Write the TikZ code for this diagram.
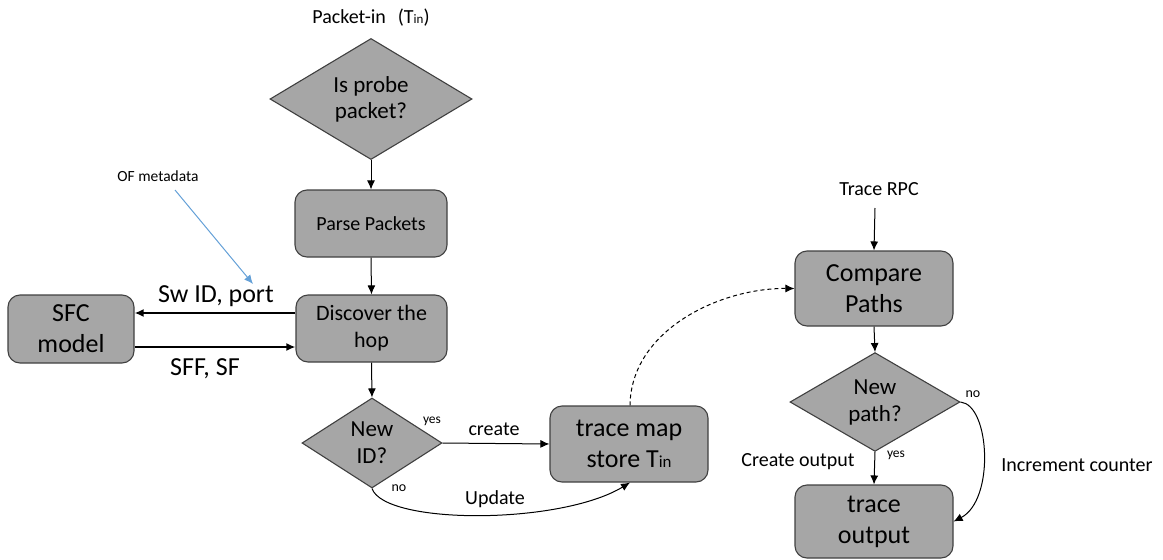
\documentclass[tikz,border=0pt]{standalone}
\usepackage{fontspec}
\setmainfont{Carlito}
\usetikzlibrary{shapes.geometric,arrows.meta}
\definecolor{boxfill}{RGB}{166,166,166}
\definecolor{boxline}{RGB}{64,64,64}
\definecolor{metablue}{RGB}{100,160,215}
\newcommand{\myfs}[2]{\fontsize{#1pt}{#2pt}\selectfont}
\newcommand{\Tin}{T{\fontsize{0.65em}{1em}\selectfont in}}
\tikzset{
  box/.style={draw=boxline, line width=1.1pt, fill=boxfill, rounded corners=12pt, align=center, inner sep=0pt},
  dec/.style={draw=boxline, line width=1.1pt, fill=boxfill, shape=diamond, align=center, inner sep=0pt},
  arr/.style={line width=1pt, -{Latex[length=9pt,width=8pt]}},
  thickarr/.style={line width=2.6pt, -{Latex[length=9pt,width=8pt]}},
  lbl/.style={inner sep=0pt, align=center},
}
\begin{document}
\begin{tikzpicture}[x=1pt,y=-1pt]
\useasboundingbox (0,0) rectangle (1163,560);

% left column
\node[lbl, font={\myfs{20}{24}}] (pin) at (371,18) {Packet-in\hspace{0.6em}(\Tin)};
\node[dec, minimum width=202pt, minimum height=105pt, font={\myfs{23}{26}}] (probe) at (371,99) {Is probe\\packet?};
\node[box, minimum width=152pt, minimum height=67pt, font={\myfs{20}{24}}] (parse) at (371,223.5) {Parse Packets};
\node[box, minimum width=151pt, minimum height=67pt, font={\myfs{22}{27}}] (disc) at (371.5,328.5) {Discover the\\hop};
\node[box, minimum width=126pt, minimum height=68pt, font={\myfs{26}{31}}] (sfc) at (71,329) {SFC\\model};
\node[dec, minimum width=140pt, minimum height=90pt, font={\myfs{23}{27}}] (newid) at (372,443) {New\\ID?};
\node[box, minimum width=158pt, minimum height=76pt, font={\myfs{26}{31}}] (tmap) at (629,444) {trace map\\store \Tin};

% right column
\node[lbl, font={\myfs{20}{24}}] (rpc) at (879,189) {Trace RPC};
\node[box, minimum width=158pt, minimum height=75pt, font={\myfs{26}{31}}] (cmp) at (874,288.5) {Compare\\Paths};
\node[dec, minimum width=170pt, minimum height=90pt, font={\myfs{23}{27}}] (newp) at (875,402) {New\\path?};
\node[box, minimum width=158pt, minimum height=73pt, font={\myfs{26}{31}}] (tout) at (874,521.5) {trace\\output};

% labels
\node[lbl, font={\myfs{15.5}{18}}] (ofm) at (158,176) {OF metadata};
\node[lbl, font={\myfs{26}{31}}] (swid) at (216,296) {Sw ID, port};
\node[lbl, font={\myfs{26}{31}}] (sff) at (205,369) {SFF, SF};
\node[lbl, font={\myfs{13.5}{16}}] (yes1) at (432,421) {yes};
\node[lbl, font={\myfs{14}{16}}] (no1) at (399,488) {no};
\node[lbl, font={\myfs{20}{24}}] (create) at (494,429) {create};
\node[lbl, font={\myfs{20}{24}}] (update) at (495,499) {Update};
\node[lbl, font={\myfs{14}{16}}] (no2) at (973,394) {no};
\node[lbl, font={\myfs{13.5}{16}}] (yes2) at (896,455) {yes};
\node[lbl, font={\myfs{20}{24}}] (cout) at (798,462) {Create output};
\node[lbl, font={\myfs{20}{24}}] (inc) at (1077,465) {Increment counter};

\coordinate (rpcend) at (875,208);
\coordinate (ofs) at (175,190);
\coordinate (ofe) at (253,284);

% connectors
\draw[arr] (probe.south) -- (parse.north);
\draw[arr] (parse.south) -- (disc.north);
\draw[thickarr] ([yshift=15.5pt]disc.west) -- ([yshift=16pt]sfc.east);
\draw[thickarr] ([yshift=-18pt]sfc.east) -- ([yshift=-18.5pt]disc.west);
\draw[line width=1pt, metablue, -{Latex[length=9pt,width=8pt]}] (ofs) -- (ofe);
\draw[arr] (disc.south) -- (newid.north);
\draw[arr] (newid.east) -- (tmap.west);
\draw[arr] (newid.south) .. controls (385,525) and (560,525) .. ([xshift=1pt]tmap.south);
\draw[line width=1pt, dashed, dash pattern=on 4pt off 3pt, -{Latex[length=9pt,width=8pt]}] ([xshift=1pt]tmap.north) .. controls (631,330) and (720,288) .. (cmp.west);
\draw[arr] (rpcend) -- (cmp.north);
\draw[arr] (cmp.south) -- (newp.north);
\draw[arr] (newp.south) -- (tout.north);
\draw[arr] (newp.east) .. controls (990,405) and (995,500) .. (tout.east);
\end{tikzpicture}
\end{document}
